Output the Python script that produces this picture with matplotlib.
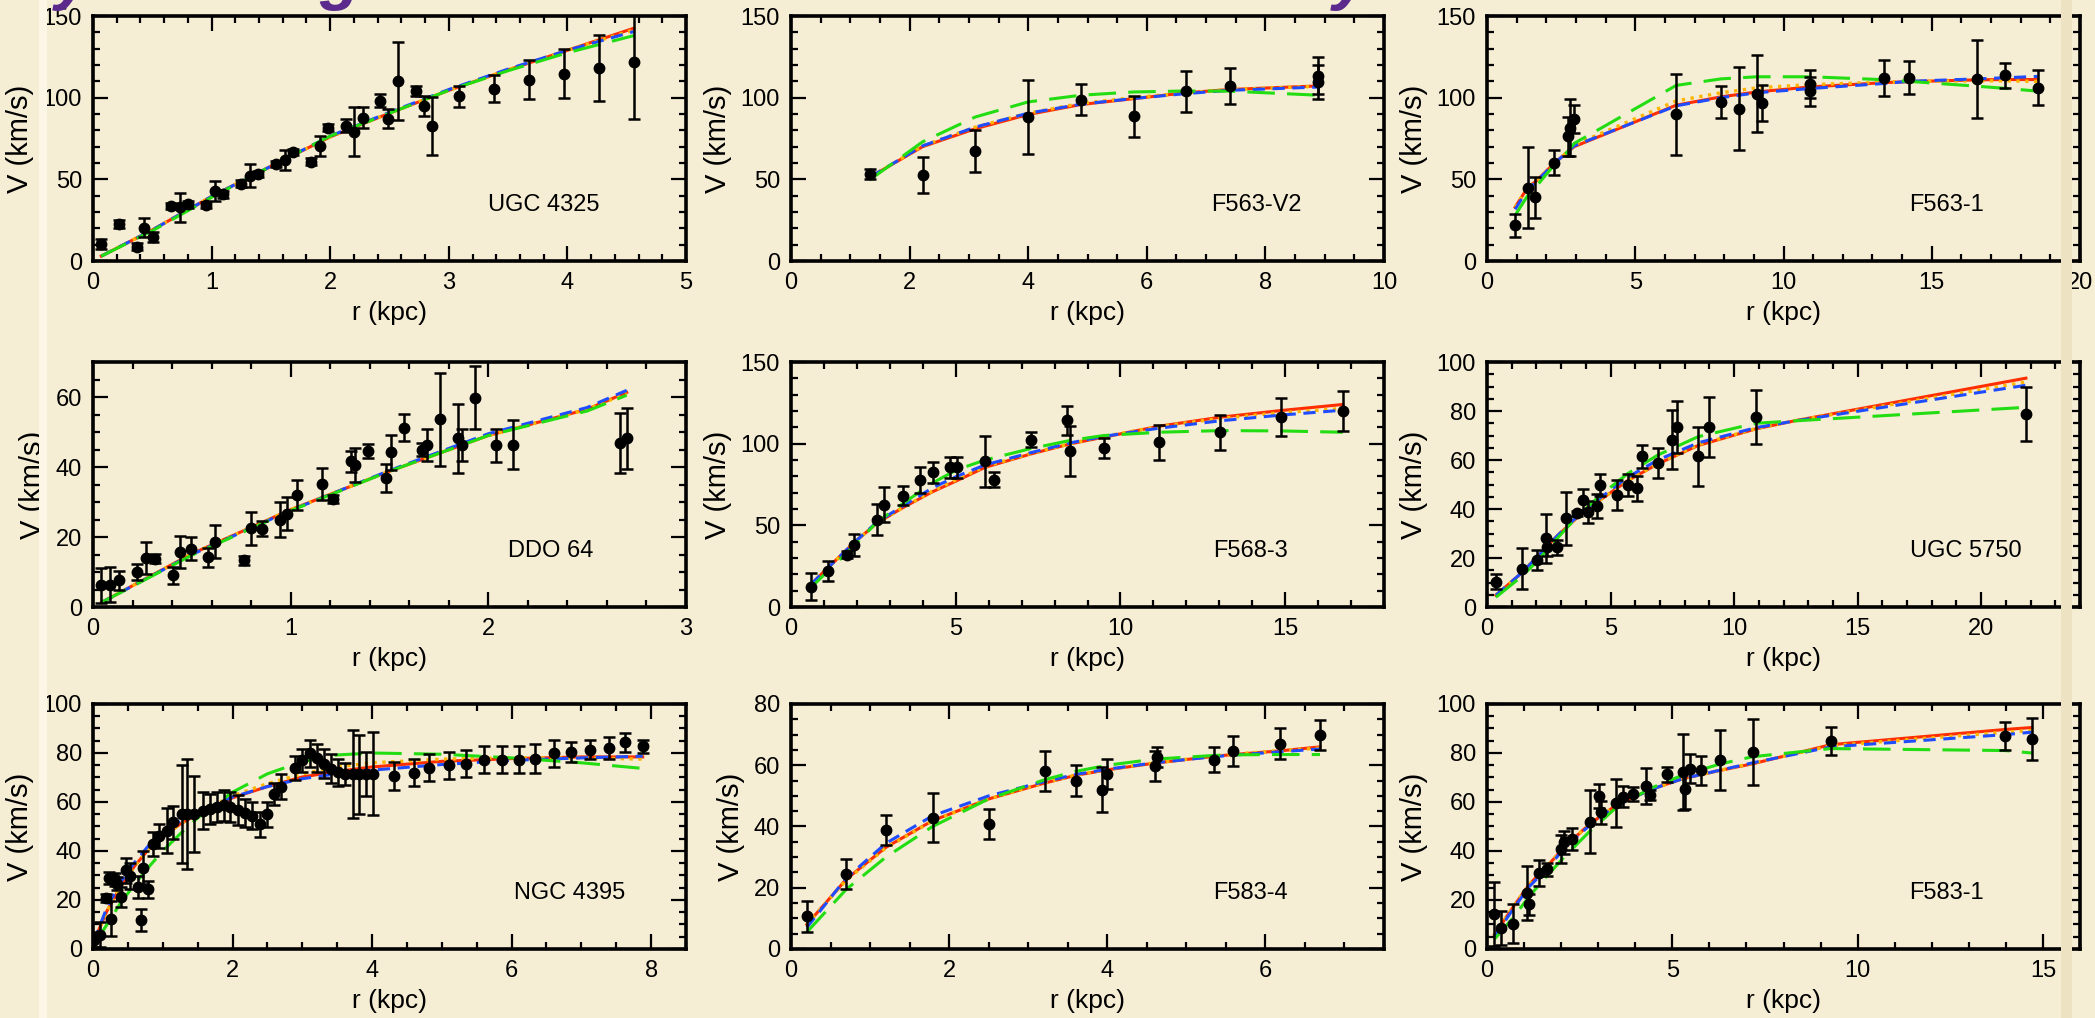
import numpy as np
import matplotlib
matplotlib.use("Agg")
import matplotlib.pyplot as plt
from matplotlib.ticker import MultipleLocator
from matplotlib.patches import Rectangle

plt.rcParams['font.family'] = ['Liberation Sans', 'DejaVu Sans']

# ---------------- UGC 4325 ----------------
ugc4325_r = [0.07, 0.22, 0.37, 0.43, 0.51, 0.66, 0.73, 0.80, 0.95, 1.03, 1.10, 1.25, 1.32, 1.39,
             1.54, 1.62, 1.69, 1.84, 1.91, 1.98, 2.13, 2.20, 2.28, 2.42, 2.49, 2.57, 2.72, 2.79,
             2.86, 3.09, 3.38, 3.68, 3.97, 4.27, 4.56]
ugc4325_v = [10.6, 22.6, 8.8, 20.4, 14.9, 33.8, 32.8, 34.6, 34.4, 42.8, 40.8, 47.3, 52.2, 53.2,
             59.5, 61.7, 66.6, 60.9, 70.5, 81.7, 82.7, 79.1, 87.8, 98.0, 87.2, 110.3, 104.3, 94.8,
             82.7, 100.9, 105.6, 111.1, 114.7, 118.2, 122.1]
ugc4325_e = [3, 2.5, 2, 6, 3, 2, 9, 2, 2, 6, 2, 2, 7, 2,
             2, 6, 2, 2, 6, 2, 4, 15, 6.6, 4, 6, 24, 3, 6,
             18, 6.5, 8, 12, 15, 20, 35]
ugc4325_rc = [0.07, 0.5, 1.0, 1.5, 2.0, 2.5, 3.0, 3.5, 4.0, 4.56]
ugc4325_red = [3, 19, 39.5, 58, 76, 90.5, 104.5, 117, 129, 142.5]
ugc4325_orange = [3, 19, 39.5, 58, 76, 90.5, 104.5, 117, 129, 141.5]
ugc4325_blue = [3, 19, 39.5, 58, 76.5, 91, 105, 117.5, 129, 140.5]
ugc4325_green = [3, 18.5, 39, 58, 76.5, 90.5, 104.5, 116.5, 127.5, 138]

# ---------------- F563-V2 ----------------
f563v2_r = [1.34, 2.22, 3.11, 4.00, 4.89, 5.78, 6.66, 7.40, 8.89, 8.89]
f563v2_v = [53.4, 52.6, 67.3, 88.0, 98.8, 88.6, 103.9, 107.2, 113.5, 109.5]
f563v2_e = [3, 11, 13, 22.6, 9.7, 12.7, 12.6, 11, 11.5, 10.5]
f563v2_rc = [1.34, 2.22, 3.11, 4.00, 4.89, 5.78, 6.66, 7.40, 8.89]
f563v2_red = [51.5, 70, 81, 89.7, 95.8, 99.4, 103, 105, 107.2]
f563v2_orange = [51.5, 70.5, 82, 90.5, 96.5, 100, 103, 105, 107]
f563v2_blue = [51.5, 70.5, 82, 90.5, 96, 99.5, 102.5, 104.5, 106.5]
f563v2_green = [50, 73, 88.2, 97.4, 101.5, 103.5, 104.1, 104, 101.5]

# ---------------- F563-1 ----------------
f5631_r = [0.95, 1.37, 1.63, 2.26, 2.72, 2.79, 2.94, 6.38, 7.89, 8.51, 9.10, 9.28, 10.91, 10.91,
           13.40, 14.22, 16.53, 17.48, 18.57]
f5631_v = [22, 45, 39, 60.3, 76.4, 81.5, 86.8, 89.7, 97.4, 93.3, 102.5, 97.0, 108.6, 103.9,
           112.3, 112.3, 111.3, 113.7, 106]
f5631_e = [7, 25, 12.5, 7.6, 12, 17.5, 8.7, 24.8, 9.6, 25.5, 23.7, 11, 8.5, 9,
           11, 10, 24, 7.5, 10.7]
f5631_rc = [0.95, 1.37, 1.63, 2.26, 2.72, 2.94, 6.38, 7.89, 9.10, 10.91, 13.40, 14.22, 16.53, 17.48, 18.57]
f5631_red = [33, 45, 48.5, 59.7, 66.8, 70, 95.4, 100.5, 103.5, 106.6, 109.2, 109.8, 110.9, 111.1, 111.1]
f5631_orange = [33, 45, 48.5, 59.5, 67, 71, 98, 103, 106, 108, 109.5, 110, 110.3, 110.3, 110]
f5631_blue = [31.6, 44, 48, 59.5, 67, 70.5, 95, 100, 103, 105.6, 108.7, 110, 111.5, 112.2, 113]
f5631_green = [28, 40, 45, 58.7, 67, 72, 107.5, 111.5, 112.8, 112.8, 111, 110, 107, 105.7, 104]

# ---------------- DDO 64 ----------------
ddo64_r = [0.043, 0.088, 0.133, 0.224, 0.269, 0.312, 0.405, 0.439, 0.495, 0.583, 0.617, 0.764,
           0.798, 0.855, 0.945, 0.979, 1.033, 1.158, 1.214, 1.305, 1.327, 1.393, 1.483, 1.508,
           1.574, 1.664, 1.689, 1.754, 1.845, 1.867, 1.935, 2.037, 2.127, 2.666, 2.700]
ddo64_v = [6.2, 6.3, 7.7, 10.1, 14.0, 13.8, 9.1, 15.8, 16.7, 14.2, 18.6, 13.3,
           22.5, 22.4, 25.0, 26.6, 32.0, 35.1, 30.8, 41.7, 40.6, 44.7, 36.8, 44.2,
           51.2, 45.0, 46.3, 53.6, 48.2, 46.3, 59.8, 46.2, 46.3, 46.9, 48.2]
ddo64_e = [5, 5, 2.7, 2.3, 4.7, 1.3, 2.4, 4.6, 3.3, 2.7, 4.7, 1.2,
           4.7, 2.2, 5, 4.7, 4.2, 4.6, 1.2, 3, 4.9, 2, 4, 5,
           3.9, 1.8, 4.7, 13.2, 9.8, 4.7, 9, 4.7, 7, 8.6, 8.7]
ddo64_rc = [0.043, 0.5, 1.0, 1.5, 2.0, 2.5, 2.70]
ddo64_red = [1.3, 15.2, 27.8, 38.8, 49, 56.5, 61.3]
ddo64_orange = [1.3, 15.2, 27.8, 38.8, 49, 56.5, 61.0]
ddo64_blue = [1.3, 15.0, 27.6, 39, 49.5, 57, 61.9]
ddo64_green = [1.3, 14.8, 27.5, 38.8, 49, 56, 60.5]

# ---------------- F568-3 ----------------
f5683_r = [0.61, 1.12, 1.69, 1.92, 2.61, 2.81, 3.41, 3.92, 4.30, 4.83, 5.03, 5.89, 6.16, 7.28,
           8.39, 8.48, 9.50, 11.18, 13.03, 14.88, 16.75]
f5683_v = [12.5, 22.1, 32, 37.9, 53.4, 62.6, 68.1, 78, 82.5, 85.5, 85.5, 89.2, 78, 102.5,
           114.2, 95.4, 97.4, 100.9, 107, 116.6, 120]
f5683_e = [8.5, 6, 2, 6.5, 9.6, 10.8, 5.7, 8, 6.3, 6.4, 6.4, 15.5, 4.6, 4.6,
           8.9, 15.5, 6.3, 10.6, 10.7, 11.6, 12]
f5683_rc = [0.61, 1.12, 1.92, 2.61, 3.41, 4.30, 5.03, 5.89, 7.28, 8.48, 9.50, 11.18, 13.03, 14.88, 16.75]
f5683_red = [14, 24, 39.5, 51.4, 61, 70.6, 77.3, 85.5, 93.7, 99.9, 104, 110.7, 116.2, 120.3, 124]
f5683_orange = [14, 24, 39.5, 51.5, 61, 71, 78, 86, 94, 100, 104.5, 110.5, 115.5, 119, 121.5]
f5683_blue = [14, 24, 39.5, 52, 62, 73, 80, 87, 94.5, 100.5, 104.5, 109.5, 114, 117.5, 120.5]
f5683_green = [12, 22, 37.5, 52, 63.5, 76, 84, 90, 97, 102, 105, 107, 108, 107.8, 107]

# ---------------- UGC 5750 ----------------
ugc5750_r = [0.36, 1.41, 2.01, 2.37, 2.44, 2.84, 3.19, 3.66, 3.89, 4.07, 4.45, 4.58, 5.27, 5.70,
             6.08, 6.28, 6.91, 7.49, 7.69, 8.54, 9.00, 10.88, 21.81]
ugc5750_v = [10.4, 15.7, 19.1, 28, 24.3, 24.3, 36.2, 38.3, 43.8, 38.6, 41.3, 49.9, 45.7, 49.8,
             48.4, 61.5, 58.8, 68.3, 73.4, 61.5, 73.4, 77.5, 78.9]
ugc5750_e = [3.2, 8.5, 4.2, 10, 3.4, 3, 10.9, 1, 4.4, 4.5, 5, 4.4, 6, 4.5,
             5, 4.8, 6.1, 12, 10.7, 12, 12.3, 11, 11]
ugc5750_rc = [0.36, 1.41, 2.01, 2.84, 3.66, 4.58, 5.70, 6.91, 8.54, 10.88, 12.5, 21.81]
ugc5750_red = [4.8, 14, 20.2, 29, 36.6, 43.7, 51.6, 58.4, 65.9, 72.7, 76.1, 93.4]
ugc5750_orange = [4.8, 14, 20.2, 29, 36.6, 43.7, 51.6, 58.5, 66.2, 72.8, 76.1, 91.8]
ugc5750_blue = [4.8, 14, 20.2, 29, 37, 44.5, 53, 60, 67, 73.2, 76, 90.5]
ugc5750_green = [4, 12.5, 18.5, 28, 37, 45.5, 54.5, 62, 69.5, 75, 76, 81.5]

# ---------------- NGC 4395 ----------------
ngc4395_r = [0.01, 0.10, 0.18, 0.23, 0.26, 0.31, 0.35, 0.40, 0.48, 0.53, 0.64, 0.69, 0.72, 0.79,
             0.86, 0.94, 1.06, 1.15, 1.27, 1.35, 1.45, 1.58, 1.68, 1.78, 1.88, 1.97, 2.08, 2.18,
             2.28, 2.40, 2.50, 2.59, 2.69, 2.90, 3.00, 3.11, 3.21, 3.31, 3.41, 3.51, 3.61, 3.72,
             3.82, 3.92, 4.02, 4.32, 4.60, 4.82, 5.10, 5.35, 5.61, 5.86, 6.10, 6.34, 6.61, 6.85,
             7.13, 7.40, 7.62, 7.88]
ngc4395_v = [3.8, 5.9, 20.7, 29, 12.4, 28.5, 26.7, 21.2, 32.1, 29.8, 25.3, 11.8, 33.2, 24.3,
             42.8, 46.2, 48.3, 51.7, 55.1, 55.1, 55.1, 56.5, 57.2, 57.9, 58.6, 57.9, 56.8, 55.4,
             54.4, 51, 54.9, 63.1, 66.3, 73.9, 77, 79.8, 78, 75.6, 73.6, 72.2, 71.3, 71.3,
             71.3, 71.3, 71.5, 70.6, 72, 74, 75, 75.6, 77.3, 77.3, 77.3, 77.7, 79.8, 80.4,
             81.4, 82.2, 84.3, 82.8]
ngc4395_e = [3, 5, 1.7, 2.6, 7, 2.7, 2.7, 4, 5, 5.5, 4.4, 4.4, 6.8, 3.4,
             4.8, 4.8, 9.2, 6.8, 20, 22.5, 15.7, 7.5, 6.2, 6.1, 6.2, 6.1, 6, 5.8,
             5.5, 5.1, 5.1, 4.5, 5, 5, 4.8, 5.6, 5.8, 6, 6, 5.5, 4.5, 18,
             16, 9, 17, 5.7, 5.5, 5.5, 5.5, 5.6, 5.6, 5.6, 5.6, 5.8, 5.5, 4,
             4, 4.5, 3.9, 2.6]
ngc4395_rc = [0.01, 0.2, 0.4, 0.6, 0.8, 1.0, 1.25, 1.5, 2.0, 2.5, 3.0, 3.5, 4.0, 5.0, 6.0, 7.0, 7.88]
ngc4395_red = [3, 15.5, 25.7, 34, 40.8, 45.8, 51, 55.1, 61.7, 66.3, 70.2, 72.5, 74.3, 76.6, 77.7, 78.4, 78.4]
ngc4395_orange = [3, 15.5, 25.7, 34, 40.8, 45.8, 51, 55.4, 62.5, 67.5, 71.5, 74.3, 76, 77.5, 78, 78, 77.5]
ngc4395_blue = [3, 17, 27.5, 35.5, 42.3, 47.3, 52.3, 56, 62, 66.3, 69.5, 71.5, 73, 75.3, 77, 78, 78.7]
ngc4395_green = [1.5, 10, 19, 26.5, 33.5, 40, 47, 53.5, 64, 71.5, 76.5, 79.2, 80, 79.5, 78, 76, 73.7]

# ---------------- F583-4 ----------------
f5834_r = [0.20, 0.70, 1.20, 1.79, 2.50, 3.21, 3.60, 3.93, 4.00, 4.60, 4.63, 5.35, 5.59, 6.19, 6.69]
f5834_v = [10.7, 24.6, 38.8, 42.8, 40.8, 58.2, 55, 52, 57.1, 59.7, 62.7, 61.8, 64.7, 67.1, 70]
f5834_e = [5, 4.9, 5, 8, 4.9, 6.5, 5, 7.4, 5, 4.9, 3.3, 4.1, 4.8, 5.1, 4.9]
f5834_rc = [0.20, 0.70, 1.20, 1.79, 2.50, 3.21, 3.60, 4.00, 4.60, 5.35, 5.59, 6.19, 6.69]
f5834_red = [8, 22.8, 33.2, 41.9, 49, 54.2, 56.7, 58.5, 60.7, 62.9, 63.5, 64.7, 66]
f5834_orange = [8, 22.5, 33, 41.8, 49, 54.3, 56.8, 58.6, 60.8, 63, 63.6, 64.8, 65.6]
f5834_blue = [7, 23.2, 34.5, 43.5, 50, 54.7, 57, 58.7, 60.8, 62.8, 63.3, 64.4, 65.3]
f5834_green = [5.5, 19.5, 30, 40, 49, 55.3, 58, 60, 62, 63.2, 63.4, 63.5, 63.5]

# ---------------- F583-1 ----------------
f5831_r = [0.20, 0.39, 0.69, 1.08, 1.14, 1.39, 1.63, 1.99, 2.08, 2.29, 2.77, 3.01, 3.07, 3.47,
           3.67, 3.94, 4.28, 4.40, 4.86, 5.28, 5.33, 5.48, 5.78, 6.29, 7.17, 9.28, 13.98, 14.70]
f5831_v = [14.4, 8.6, 10.4, 23, 18.2, 31.2, 32.6, 40.8, 43.5, 44.9, 52, 62.4, 55.8, 59.5,
           62.2, 63.3, 66.5, 62.7, 71.3, 72.2, 65.4, 73.6, 72.9, 77.3, 80.4, 84.8, 86.9, 85.6]
f5831_e = [13, 7, 8, 11, 4.4, 5.3, 2.7, 5.8, 4.6, 4.6, 12.9, 5, 4.6, 9.9,
           4.2, 2.9, 7.2, 2, 3.1, 15.6, 8.2, 6, 5.8, 12.2, 13.5, 5.8, 5.6, 8.6]
f5831_rc = [0.20, 0.69, 1.14, 1.63, 2.08, 2.77, 3.47, 4.40, 5.28, 6.29, 7.17, 9.28, 13.98, 14.70]
f5831_red = [5.9, 16.8, 26.4, 33.9, 41.5, 51, 58.5, 65, 69.5, 72.9, 75.6, 83.4, 89.6, 90.4]
f5831_orange = [5.9, 16.8, 26.4, 33.9, 41.5, 51, 58.5, 65, 69.5, 73, 75.8, 83, 88.5, 89.2]
f5831_blue = [5, 16, 25.5, 33, 41, 50.5, 58.3, 65, 69.5, 73, 76, 82.5, 87.5, 88.5]
f5831_green = [4, 12.5, 21.5, 30, 37.5, 48, 57.5, 65.5, 71, 75.5, 78.5, 81.8, 81, 80]

# panel layout: name, data, axis limits and tick spacing
panels = [
    ("UGC 4325", ugc4325_r, ugc4325_v, ugc4325_e, ugc4325_rc,
     ugc4325_red, ugc4325_orange, ugc4325_blue, ugc4325_green, 5, 150, 1, 0.2, 50, 10, 0.76),
    ("F563-V2", f563v2_r, f563v2_v, f563v2_e, f563v2_rc,
     f563v2_red, f563v2_orange, f563v2_blue, f563v2_green, 10, 150, 2, 0.5, 50, 10, 0.785),
    ("F563-1", f5631_r, f5631_v, f5631_e, f5631_rc,
     f5631_red, f5631_orange, f5631_blue, f5631_green, 20, 150, 5, 1, 50, 10, 0.775),
    ("DDO 64", ddo64_r, ddo64_v, ddo64_e, ddo64_rc,
     ddo64_red, ddo64_orange, ddo64_blue, ddo64_green, 3, 70, 1, 0.2, 20, 5, 0.772),
    ("F568-3", f5683_r, f5683_v, f5683_e, f5683_rc,
     f5683_red, f5683_orange, f5683_blue, f5683_green, 18, 150, 5, 1, 50, 10, 0.775),
    ("UGC 5750", ugc5750_r, ugc5750_v, ugc5750_e, ugc5750_rc,
     ugc5750_red, ugc5750_orange, ugc5750_blue, ugc5750_green, 24, 100, 5, 1, 20, 5, 0.808),
    ("NGC 4395", ngc4395_r, ngc4395_v, ngc4395_e, ngc4395_rc,
     ngc4395_red, ngc4395_orange, ngc4395_blue, ngc4395_green, 8.5, 100, 2, 0.5, 20, 5, 0.803),
    ("F583-4", f5834_r, f5834_v, f5834_e, f5834_rc,
     f5834_red, f5834_orange, f5834_blue, f5834_green, 7.5, 80, 2, 0.5, 20, 5, 0.775),
    ("F583-1", f5831_r, f5831_v, f5831_e, f5831_rc,
     f5831_red, f5831_orange, f5831_blue, f5831_green, 16, 100, 5, 1, 20, 5, 0.775),
]

lefts = [0.04439, 0.37757, 0.70979]
bottoms = [0.74361, 0.40373, 0.06778]
width, height = 0.28305, 0.24067

bg = '#f5edd4'
fig = plt.figure(figsize=(20.95, 10.18), dpi=100, facecolor=bg)

# faint slide border stripes
fig.patches.append(Rectangle((0.0185, 0), 0.004, 1, transform=fig.transFigure,
                             facecolor='#fbf6e6', edgecolor='none', zorder=0))
fig.patches.append(Rectangle((0.984, 0), 0.005, 1, transform=fig.transFigure,
                             facecolor='#ede2c2', edgecolor='none', zorder=0))

# slide title running off the top edge; only the descenders remain
purple = '#5c2a8c'
for ch, xpos in [('y', 0.035), ('g', 0.162), ('y', 0.645)]:
    fig.text(xpos, 1.003, ch, fontsize=48, color=purple, ha='center', va='baseline',
             fontstyle='italic', fontweight='bold')

for i, p in enumerate(panels):
    (name, r, v, e, rc, red, orange, blue, green,
     xmax, ymax, xmaj, xmin, ymaj, ymin, labx) = p
    ax = fig.add_axes([lefts[i % 3], bottoms[i // 3], width, height])
    ax.set_facecolor('none')

    ax.plot(rc, red, '-', color='#ff2e00', lw=2.2, zorder=3)
    ax.plot(rc, orange, ':', color='#ffb400', lw=2.4, zorder=3)
    ax.plot(rc, blue, '--', color='#1f4cff', lw=2.2, dashes=(4, 2.5), zorder=3)
    ax.plot(rc, green, '--', color='#22dd11', lw=2.2, dashes=(9, 4), zorder=3)

    ax.errorbar(r, v, yerr=e, fmt='o', color='black', ms=7.5, elinewidth=1.8,
                capsize=4.5, capthick=1.8, zorder=4, clip_on=True)

    ax.set_xlim(0, xmax)
    ax.set_ylim(0, ymax)
    ax.xaxis.set_major_locator(MultipleLocator(xmaj))
    ax.xaxis.set_minor_locator(MultipleLocator(xmin))
    ax.yaxis.set_major_locator(MultipleLocator(ymaj))
    ax.yaxis.set_minor_locator(MultipleLocator(ymin))
    ax.tick_params(which='both', direction='in', top=True, right=True, width=1.6,
                   labelsize=17, colors='black')
    ax.tick_params(which='major', length=11, pad=8)
    ax.tick_params(which='minor', length=5)
    for s in ax.spines.values():
        s.set_linewidth(2.6)

    ax.set_xlabel('r (kpc)', fontsize=19, labelpad=5)
    ax.set_ylabel('V (km/s)', fontsize=21, labelpad=6)
    ax.text(labx, 0.23, name, transform=ax.transAxes, fontsize=17,
            ha='center', va='center')

fig.savefig('out.png', dpi=100, facecolor=bg)
